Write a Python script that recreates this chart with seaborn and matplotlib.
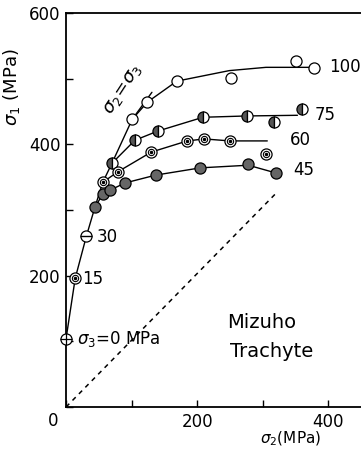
import matplotlib
matplotlib.use("Agg")
import matplotlib.pyplot as plt
import seaborn as sns
import pandas as pd

sns.set_style("ticks")
plt.rcParams['font.family'] = ['DejaVu Sans']
plt.rcParams['mathtext.fontset'] = 'dejavusans'
for k in ['text.color', 'axes.labelcolor', 'xtick.color', 'ytick.color',
          'axes.edgecolor']:
    plt.rcParams[k] = 'black'

# ---- data (MPa) ----
s3_0_x = [0];   s3_0_y = [104]
s3_15_x = [14]; s3_15_y = [196]
s3_30_x = [31]; s3_30_y = [260]
s3_45_x = [44, 56, 67, 90, 137, 205, 278, 321]
s3_45_y = [304, 324, 330, 341, 353, 364, 370, 356]
s3_60_x = [56, 79, 130, 185, 211, 250, 305]
s3_60_y = [342, 358, 388, 405, 408, 405, 385]
s3_75_x = [70, 105, 140, 209, 276, 318, 360]
s3_75_y = [371, 406, 420, 441, 443, 434, 454]
s3_100_x = [101, 124, 169, 252, 351, 379]
s3_100_y = [438, 464, 496, 501, 527, 516]

# fitted curves
c45_x = [44, 56, 67, 90, 137, 205, 278, 321]
c45_y = [304, 324, 330, 341, 353, 364, 368, 356]
c60_x = [56, 79, 130, 185, 211, 250, 307]
c60_y = [342, 358, 388, 405, 408, 405, 405]
c75_x = [70, 105, 140, 209, 276, 353]
c75_y = [371, 406, 420, 441, 443, 444]
c100_x = [101, 124, 169, 249, 305, 372]
c100_y = [438, 464, 496, 512, 517, 517]
eq_x = [0, 14, 31, 44, 56, 70, 101, 131]
eq_y = [104, 196, 260, 304, 342, 371, 438, 479]
diag_x = [0, 322]
diag_y = [0, 327]

series_labels = ["100", "75", "60", "45", "30", "15"]
label_x = [402, 380, 342, 347, 47, 24]
label_y = [517, 444, 406, 361, 259, 195]

fig = plt.figure(figsize=(3.61, 4.51), dpi=100)
ax = fig.add_axes([0.183, 0.0976, 0.817, 0.874])

lw = 1.0
for cx, cy in [(c45_x, c45_y), (c60_x, c60_y), (c75_x, c75_y),
               (c100_x, c100_y), (eq_x, eq_y)]:
    sns.lineplot(x=cx, y=cy, ax=ax, color='black', lw=lw, sort=False,
                 estimator=None)
sns.lineplot(x=diag_x, y=diag_y, ax=ax, color='black', lw=1.1,
             linestyle=(0, (3, 3)), estimator=None)

ms = 8
common = dict(ls='none', mec='black', mew=0.9, ms=ms, zorder=5,
              clip_on=False)
# 100 : open
ax.plot(s3_100_x, s3_100_y, marker='o', mfc='white', **common)
# 75 : half filled
ax.plot(s3_75_x, s3_75_y, marker='o', fillstyle='left', mfc='#555555',
        markerfacecoloralt='white', **common)
# 60 and 15 : double circle with dot
for xs, ys in [(s3_60_x, s3_60_y), (s3_15_x, s3_15_y)]:
    ax.plot(xs, ys, marker='o', mfc='white', **common)
    ax.plot(xs, ys, ls='none', marker='o', mfc='white', mec='black',
            mew=0.8, ms=4.5, zorder=6)
    ax.plot(xs, ys, ls='none', marker='o', mfc='black', mec='black',
            ms=1.5, zorder=7)
# 45 : filled grey
ax.plot(s3_45_x, s3_45_y, marker='o', mfc='#666666', **common)
# 30 : circle with bar
ax.plot(s3_30_x, s3_30_y, marker='o', mfc='white', **common)
ax.plot(s3_30_x, s3_30_y, ls='none', marker='_', mec='black', mew=1.0,
        ms=ms, zorder=6)
# 0 : circle with cross
ax.plot(s3_0_x, s3_0_y, marker='o', mfc='white', **common)
ax.plot(s3_0_x, s3_0_y, ls='none', marker='+', mec='black', mew=0.9,
        ms=ms, zorder=6, clip_on=False)

for t, x, y in zip(series_labels, label_x, label_y):
    ax.text(x, y, t, fontsize=12, ha='left', va='center')
ax.text(17, 103, r'$\sigma_3$=0 MPa', fontsize=12, ha='left', va='center')
ax.text(86, 484, r'$\sigma_2\!=\!\sigma_3$', fontsize=13, ha='center',
        va='center', rotation=57)
ax.text(299, 129, 'Mizuho', fontsize=14, ha='center', va='center')
ax.text(313, 85, 'Trachyte', fontsize=14, ha='center', va='center')

ax.set_xlim(0, 450)
ax.set_ylim(0, 600)
ax.set_xticks([0, 100, 200, 300, 400])
ax.set_xticklabels(['', '', '200', '', '400'])
ax.set_yticks([0, 100, 200, 300, 400, 500, 600])
ax.set_yticklabels(['', '', '200', '', '400', '', '600'])
ax.tick_params(direction='in', length=5, width=1, labelsize=12, pad=4)
ax.annotate('0', xy=(0, 0), xytext=(-9, -10), textcoords='offset points',
            fontsize=12, ha='center', va='center')
ax.spines['right'].set_visible(False)
for s in ['left', 'bottom', 'top']:
    ax.spines[s].set_linewidth(1.3)
ax.set_xlabel(r'$\sigma_2$(MPa)', fontsize=11)
ax.xaxis.set_label_coords(0.76, -0.058)
ax.set_ylabel(r'$\sigma_1$ (MPa)', fontsize=13)
ax.yaxis.set_label_coords(-0.15, 0.81)

fig.savefig('out.png', dpi=100)
